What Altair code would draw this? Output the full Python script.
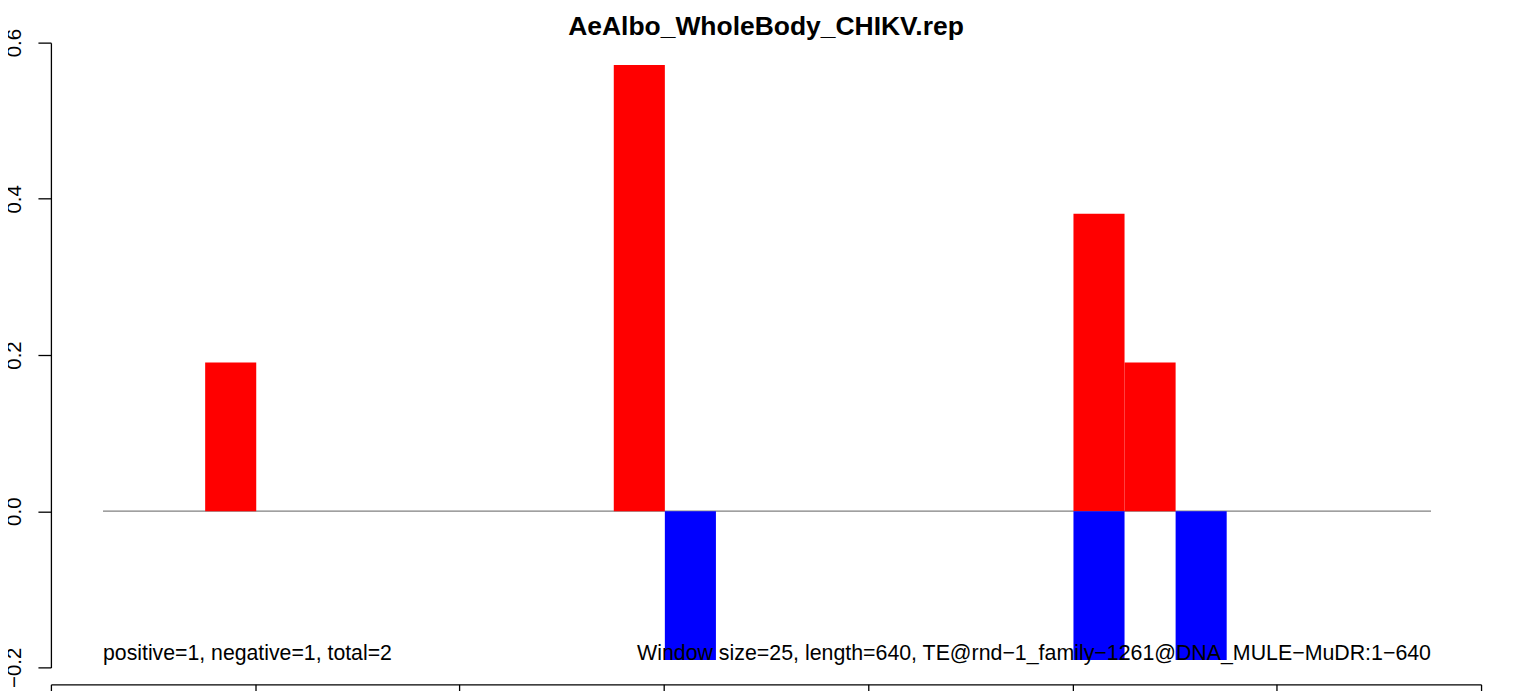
import altair as alt
import pandas as pd

# ---- data ----
title_text = "AeAlbo_WholeBody_CHIKV.rep"
window_size = 25
pos_start = [50, 250, 475, 500]
pos_value = [0.1905, 0.5714, 0.3810, 0.1905]
neg_start = [275, 475, 525]
neg_value = [-0.1905, -0.1905, -0.1905]
baseline_span = [0, 650]
x_ticks = [-25.5, 74.5, 174.5, 274.5, 374.5, 474.5, 574.5, 674.5]
y_ticks = [-0.2, 0.0, 0.2, 0.4, 0.6]
note_left = "positive=1, negative=1, total=2"
note_right = "Window size=25, length=640, TE@rnd\u22121_family\u22121261@DNA_MULE\u2212MuDR:1\u2212640"
note_y = -0.19

FONT = "Liberation Sans"

bars = pd.DataFrame({
    "start": pos_start + neg_start,
    "value": pos_value + neg_value,
    "sign": ["pos"] * len(pos_start) + ["neg"] * len(neg_start),
})
bars["end"] = bars["start"] + window_size

line_df = pd.DataFrame({"start": [baseline_span[0]], "end": [baseline_span[1]], "value": [0.0]})
left_df = pd.DataFrame({"start": [baseline_span[0]], "value": [note_y], "t": [note_left]})
right_df = pd.DataFrame({"start": [baseline_span[1]], "value": [note_y], "t": [note_right]})

xscale = alt.Scale(domain=[x_ticks[0], x_ticks[-1]], nice=False, zero=False)
yscale = alt.Scale(domain=[y_ticks[0], y_ticks[-1]], nice=False, zero=False)

x_axis = alt.Axis(values=x_ticks, labels=False, tickSize=13, offset=17, grid=False,
                  domainColor="black", tickColor="black",
                  domainWidth=1.3, tickWidth=1.3)
y_axis = alt.Axis(values=y_ticks, labelExpr="replace(format(datum.value, '.1f'), '-', '\u2212')",
                  labelAngle=270, labelAlign="center", labelBaseline="alphabetic",
                  labelPadding=17.5, labelFontSize=20.5, labelFont=FONT, labelColor="black",
                  labelFlush=False, labelOverlap=False,
                  tickSize=13, tickColor="black", domainColor="black",
                  tickWidth=1.3, domainWidth=1.3, grid=False)

X = alt.X("start:Q", scale=xscale, axis=x_axis, title=None)
Y = alt.Y("value:Q", scale=yscale, axis=y_axis, title=None)

zero_line = alt.Chart(line_df).mark_rule(color="#808080", strokeWidth=1.3).encode(
    x=X, x2="end:Q", y=Y,
)

bar_layer = alt.Chart(bars).mark_bar(strokeWidth=0).encode(
    x=X, x2="end:Q", y=Y, y2=alt.datum(0),
    color=alt.Color("sign:N", scale=alt.Scale(domain=["pos", "neg"], range=["#FF0000", "#0000FF"]),
                    legend=None),
)

left_text = alt.Chart(left_df).mark_text(align="left", baseline="alphabetic", fontSize=21.3,
                                          font=FONT, color="black").encode(
    x=X, y=Y, text="t:N",
)
right_text = alt.Chart(right_df).mark_text(align="right", baseline="alphabetic", fontSize=21.4,
                                            font=FONT, color="black").encode(
    x=X, y=Y, text="t:N",
)

chart = alt.layer(zero_line, bar_layer, left_text, right_text).properties(
    width=1433,
    height=626,
    padding={"left": 43, "top": 34, "right": 27, "bottom": 40},
    autosize=alt.AutoSizeParams(type="none"),
    background="white",
    title=alt.TitleParams(title_text, fontSize=26.5, font=FONT, fontWeight="bold",
                          anchor="middle", frame="group", baseline="alphabetic",
                          offset=5, dy=38, color="black"),
).configure_view(stroke=None)

chart.save("out.html", embed_options={"renderer": "svg", "actions": False})
